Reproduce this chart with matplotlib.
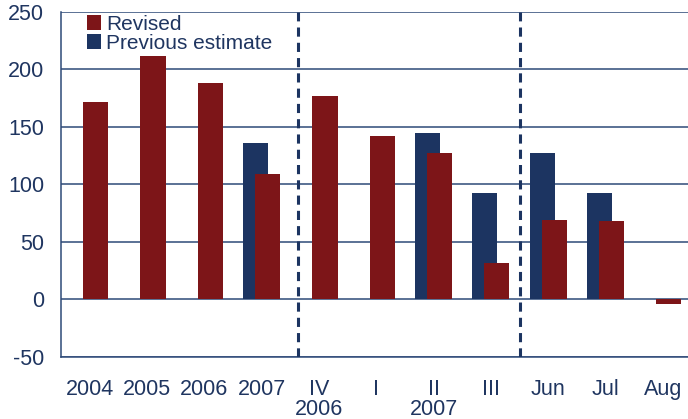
import numpy as np
import matplotlib.pyplot as plt

plt.rcParams['font.family'] = ['Liberation Sans', 'DejaVu Sans']
plt.rcParams['axes.unicode_minus'] = False

# categories (second row for year under quarter labels)
labels = ['2004', '2005', '2006', '2007', 'IV\n2006', 'I', 'II\n2007', 'III', 'Jun', 'Jul', 'Aug']
revised = [172, 212, 188, 109, 177, 142, 127, 32, 69, 68, -4]
previous = [np.nan, np.nan, np.nan, 136, np.nan, np.nan, 145, 93, 127, 93, np.nan]
dividers = [3.63, 7.5]

navy = '#1c3461'
red = '#7d1518'
text_col = '#1f3560'

fig = plt.figure(figsize=(6.88, 4.19), dpi=100)
ax = fig.add_axes([0.0887, 0.148, 0.9113, 0.8234])

x = np.arange(len(labels))
w = 0.44
off = 0.105
ax.bar(x - off, previous, w, color=navy, zorder=3, label='Previous estimate')
ax.bar(x + off, revised, w, color=red, zorder=4, label='Revised')

for d in dividers:
    ax.axvline(d, ymin=0, ymax=1, color=navy, lw=2.2, ls=(0, (3, 2)), zorder=5)

ax.set_ylim(-50, 250)
ax.set_yticks(range(-50, 251, 50))
ax.set_xlim(-0.5, 10.44)
ax.set_xticks(x)
ax.set_xticklabels(labels, linespacing=0.95)
ax.yaxis.grid(True, color='#2e4a78', lw=1.1, zorder=1)
ax.set_axisbelow(True)

for s in ['top', 'right']:
    ax.spines[s].set_visible(False)
ax.spines['left'].set_color('#2e4a78')
ax.spines['bottom'].set_color('#2e4a78')
ax.spines['left'].set_linewidth(1.1)
ax.spines['bottom'].set_linewidth(1.1)

ax.tick_params(axis='both', length=0, labelsize=15.5, labelcolor=text_col)
ax.tick_params(axis='y', pad=12)
ax.tick_params(axis='x', pad=16)

h, l = ax.get_legend_handles_labels()
ax.legend(h[::-1], l[::-1], loc='upper left', bbox_to_anchor=(0.025, 1.022),
          frameon=False, fontsize=15, labelcolor=text_col, handlelength=0.68,
          handleheight=0.68, handletextpad=0.25, labelspacing=0.0, borderpad=0)

fig.savefig('out.png', dpi=100)
